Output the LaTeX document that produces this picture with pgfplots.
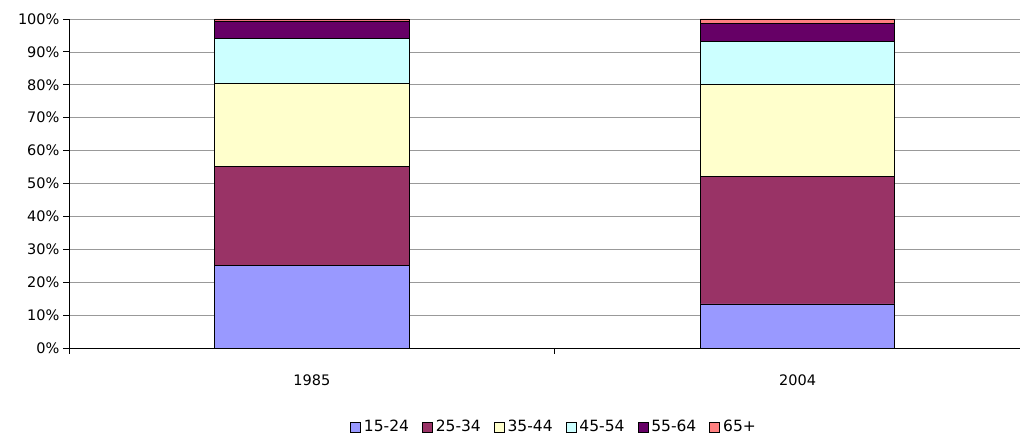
\documentclass[border=0pt]{standalone}
\usepackage{pgfplots}
\pgfplotsset{compat=1.18}
\usepackage{fontspec}
\setmainfont{DejaVu Sans}

\definecolor{cA}{HTML}{9999FF}
\definecolor{cB}{HTML}{993366}
\definecolor{cC}{HTML}{FFFFCC}
\definecolor{cD}{HTML}{CCFFFF}
\definecolor{cE}{HTML}{660066}
\definecolor{cF}{HTML}{FF8080}

\begin{document}
\begin{tikzpicture}
\begin{axis}[
    scale only axis,
    width=951pt, height=329pt,
    ybar stacked,
    bar width=0.40,
    xmin=-0.5, xmax=1.458,
    ymin=0, ymax=100,
    ytick={0,10,...,100},
    yticklabel={\pgfmathprintnumber{\tick}\%},
    xtick={-0.5,0.5},
    xticklabels={},
    extra x ticks={0,1},
    extra x tick labels={1985,2004},
    extra x tick style={major tick length=0pt, grid=none},
    axis x line*=bottom, axis y line*=left,
    axis line style={black, line width=0.8pt},
    tick align=outside,
    major tick length=6pt,
    tick style={black, line width=0.8pt},
    ymajorgrids,
    grid style={gray!80, line width=0.7pt},
    xticklabel style={yshift=-23pt},
    /pgf/number format/assume math mode=true,
    tick label style={font=\fontsize{14.5}{16}\selectfont},
    legend columns=6,
    legend style={at={(0.51,-0.24)}, anchor=center, draw=none,
        font=\fontsize{15.5}{17}\selectfont,
        /tikz/every odd column/.append style={column sep=1pt},
        /tikz/every even column/.append style={column sep=11pt}},
    legend image code/.code={\draw[#1, draw=black, line width=0.8pt] (0pt,-5pt) rectangle (10pt,5pt);},
    every axis plot/.append style={draw=black, line width=0.8pt},
]
\addplot[fill=cA] coordinates {(0,25.0) (1,13.4)};
\addplot[fill=cB] coordinates {(0,30.3) (1,38.7)};
\addplot[fill=cC] coordinates {(0,25.0) (1,28.1)};
\addplot[fill=cD] coordinates {(0,13.7) (1,13.0)};
\addplot[fill=cE] coordinates {(0,5.4) (1,5.5)};
\addplot[fill=cF] coordinates {(0,0.6) (1,1.3)};
\legend{15-24,25-34,35-44,45-54,55-64,65+}
\end{axis}
\pgfresetboundingbox
\path[use as bounding box] (-69pt,-87pt) rectangle (960pt,348pt);
\end{tikzpicture}
\end{document}
